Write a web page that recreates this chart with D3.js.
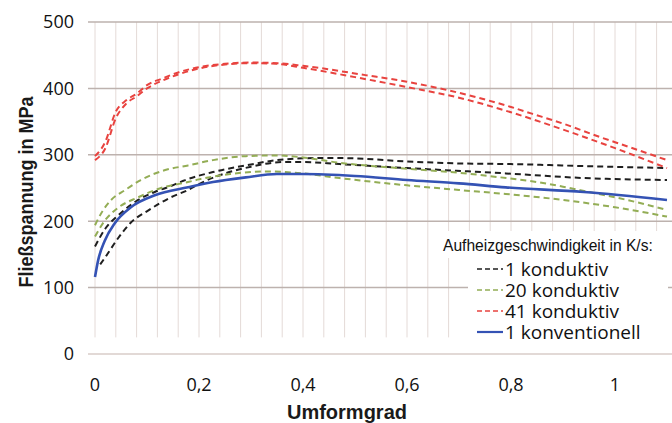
<!DOCTYPE html>
<html>
<head>
<meta charset="utf-8">
<script src="https://cdn.jsdelivr.net/npm/d3@7"></script>
<style>
  body { margin: 0; background: #fff; }
  svg { display: block; }
</style>
</head>
<body>
<svg id="chart" width="672" height="423"></svg>
<script>
// [Umformgrad, Fliessspannung MPa]
var black1 = [[0,162],[0.02,189],[0.045,209],[0.083,232],[0.115,244],[0.146,253],[0.17,261],[0.227,274],[0.29,284],[0.35,292],[0.42,295],[0.48,295],[0.6,290],[0.7,287],[0.8,286],[0.94,283],[1.1,280]]
var black2 = [[0.01,135],[0.02,146],[0.044,174],[0.069,198],[0.102,216],[0.146,236],[0.179,247],[0.2,256],[0.25,272],[0.3,282],[0.36,289],[0.4,289],[0.47,286],[0.6,280],[0.79,272],[0.94,265],[1.1,262]]
var green1 = [[0,194],[0.012,212],[0.031,232],[0.058,247],[0.088,262],[0.135,277],[0.179,284],[0.227,292],[0.29,298],[0.35,299],[0.4,296],[0.47,288],[0.6,279],[0.7,273],[0.78,266],[0.85,259],[0.9,252],[0.95,244],[1.0,236],[1.05,227],[1.1,217]]
var green2 = [[0,177],[0.019,201],[0.044,220],[0.083,236],[0.127,250],[0.179,259],[0.2,263],[0.26,271],[0.33,275],[0.4,272],[0.47,265],[0.6,254],[0.7,247],[0.79,241],[0.9,232],[1.0,221],[1.1,207]]
var red1 = [[0,298],[0.02,320],[0.04,365],[0.06,382],[0.08,392],[0.1,405],[0.13,415],[0.16,424],[0.2,432],[0.25,437],[0.3,439],[0.35,438],[0.4,434],[0.52,420],[0.6,410],[0.68,397],[0.8,372],[0.84,362],[0.9,347],[0.97,327],[1.0,319],[1.1,292]]
var red2 = [[0,292],[0.02,310],[0.04,355],[0.06,377],[0.08,388],[0.1,400],[0.13,412],[0.16,421],[0.2,430],[0.25,436],[0.3,438],[0.35,437],[0.4,431],[0.5,417],[0.6,402],[0.7,386],[0.8,364],[0.9,338],[1.0,310],[1.1,280]]
var blue1 = [[0,116],[0.006,141],[0.019,171],[0.038,197],[0.069,221],[0.115,239],[0.179,251],[0.227,259],[0.29,266],[0.35,271],[0.4,271],[0.5,268],[0.6,262],[0.7,257],[0.79,251],[0.94,244],[1.1,232]]

var legendNames = ["1 konduktiv", "20 konduktiv", "41 konduktiv", "1 konventionell"]
var yTicks = [0, 100, 200, 300, 400, 500]
var xTicks = [0, 0.2, 0.4, 0.6, 0.8, 1]

var curves = [
    {data: black1, color: "#1f1f1f", dash: "6,4", w: 2},
    {data: black2, color: "#1f1f1f", dash: "6,4", w: 2},
    {data: green1, color: "#93ad55", dash: "6,4", w: 2},
    {data: green2, color: "#93ad55", dash: "6,4", w: 2},
    {data: red1, color: "#e8433f", dash: "6,4", w: 2},
    {data: red2, color: "#e8433f", dash: "6,4", w: 2},
    {data: blue1, color: "#3452b4", dash: null, w: 2.6}
]
var legendStyle = [
    {color: "#1f1f1f", dash: "5,3"},
    {color: "#93ad55", dash: "5,3"},
    {color: "#e8433f", dash: "5,3"},
    {color: "#3452b4", dash: null}
]

var svg = d3.select("#chart")
var left = 88, right = 672

var x = d3.scaleLinear().domain([0, 1]).range([95, 615])
var y = d3.scaleLinear().domain([0, 500]).range([354, 22])

svg.append("defs").append("clipPath").attr("id", "plotclip")
    .append("rect").attr("x", left).attr("y", 0).attr("width", right - left).attr("height", 423)

// minor vertical grid every 0.04
var grid = svg.append("g")
grid.selectAll(".vgrid")
    .data(d3.range(0, 28).map(function (i) { return i * 0.04 }))
    .enter().append("line")
    .attr("x1", function (d) { return x(d) })
    .attr("x2", function (d) { return x(d) })
    .attr("y1", y(500))
    .attr("y2", y(25))
    .attr("stroke", "#e4dad7")
    .attr("stroke-width", 1)

// horizontal grid
grid.selectAll(".hgrid")
    .data(yTicks)
    .enter().append("line")
    .attr("x1", left).attr("x2", right)
    .attr("y1", function (d) { return y(d) })
    .attr("y2", function (d) { return y(d) })
    .attr("stroke", function (d) { return d == 0 ? "#d8cdc9" : "#bdb2ae" })
    .attr("stroke-width", 1.5)

// y tick labels
svg.append("g").selectAll("text")
    .data(yTicks).enter().append("text")
    .attr("x", 74)
    .attr("y", function (d) { return y(d) })
    .attr("dy", "0.35em")
    .attr("text-anchor", "end")
    .style("font-family", "Open Sans")
    .style("font-size", "18px")
    .style("font-weight", 500)
    .attr("fill", "#111")
    .text(function (d) { return d })

// x tick labels
svg.append("g").selectAll("text")
    .data(xTicks).enter().append("text")
    .attr("x", function (d) { return x(d) })
    .attr("y", 385)
    .attr("dy", "0.35em")
    .attr("text-anchor", "middle")
    .style("font-family", "Open Sans")
    .style("font-size", "18px")
    .style("font-weight", 500)
    .attr("fill", "#111")
    .text(function (d) { return String(d).replace(".", ",") })

var line = d3.line()
    .x(function (d) { return x(d[0]) })
    .y(function (d) { return y(d[1]) })
    .curve(d3.curveMonotoneX)

var plot = svg.append("g").attr("clip-path", "url(#plotclip)")
plot.selectAll("path")
    .data(curves).enter().append("path")
    .attr("d", function (d) { return line(d.data) })
    .attr("fill", "none")
    .attr("stroke", function (d) { return d.color })
    .attr("stroke-width", function (d) { return d.w })
    .attr("stroke-dasharray", function (d) { return d.dash })

// legend
var lg = svg.append("g")
lg.append("rect").attr("x", 440).attr("y", 231).attr("width", 228).attr("height", 27).attr("fill", "#fff")
lg.append("rect").attr("x", 468).attr("y", 258).attr("width", 200).attr("height", 86).attr("fill", "#fff")
lg.append("text")
    .attr("x", 443).attr("y", 246).attr("dy", "0.35em")
    .style("font-family", "Liberation Sans, Arial")
    .style("font-size", "15.6px")
    .attr("fill", "#111")
    .text("Aufheizgeschwindigkeit in K/s:")

var entry = lg.selectAll(".entry")
    .data(legendNames).enter().append("g")
    .attr("transform", function (d, i) { return "translate(0," + (269 + i * 21) + ")" })
entry.append("line")
    .attr("x1", 477).attr("x2", 503).attr("y1", 0).attr("y2", 0)
    .attr("stroke", function (d, i) { return legendStyle[i].color })
    .attr("stroke-width", function (d, i) { return legendStyle[i].dash ? 1.6 : 2.2 })
    .attr("stroke-dasharray", function (d, i) { return legendStyle[i].dash })
entry.append("text")
    .attr("x", 505).attr("y", 0).attr("dy", "0.35em")
    .style("font-family", "Open Sans")
    .style("font-size", "19px")
    .style("font-weight", 500)
    .attr("fill", "#111")
    .text(function (d) { return d })

// axis titles
svg.append("text")
    .attr("transform", "translate(33,192) rotate(-90) scale(0.9,1)")
    .attr("text-anchor", "middle")
    .style("font-family", "Liberation Sans, Arial")
    .style("font-weight", "bold")
    .style("font-size", "20px")
    .attr("fill", "#1a1a1a")
    .text("Fließspannung in MPa")

svg.append("text")
    .attr("x", 347).attr("y", 419)
    .attr("text-anchor", "middle")
    .style("font-family", "Liberation Sans, Arial")
    .style("font-weight", "bold")
    .style("font-size", "20px")
    .attr("fill", "#1a1a1a")
    .text("Umformgrad")
</script>
</body>
</html>
